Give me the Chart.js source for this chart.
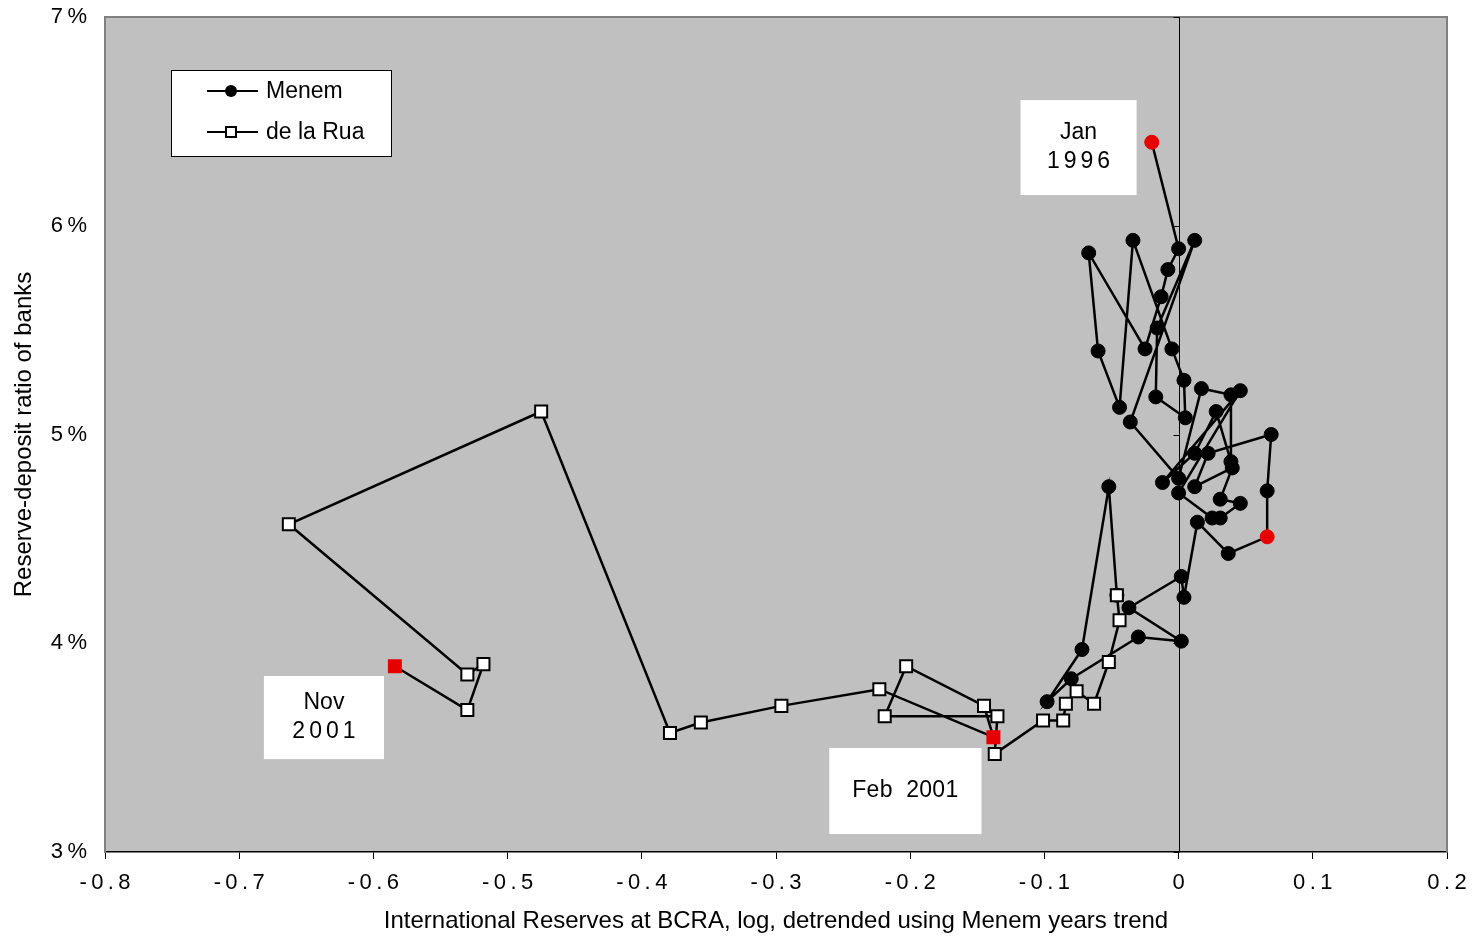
<!DOCTYPE html>
<html><head><meta charset="utf-8">
<script src="https://cdn.jsdelivr.net/npm/chart.js@4.4.1/dist/chart.umd.min.js"></script>
<style>html,body{margin:0;padding:0;background:#fff;}#wrap{width:1476px;height:941px;}</style>
</head><body><div id="wrap"><canvas id="c" width="1476" height="941"></canvas></div>
<script>
// ---- data ----
const menemX = [-0.020, 0.000, -0.008, -0.013, -0.025, -0.067, -0.060, -0.044, -0.034, -0.005,
  0.004, 0.005, -0.017, -0.016, 0.012, -0.036, 0.000, 0.017, 0.039, 0.039,
  0.028, 0.012, -0.012, 0.046, 0.000, 0.025, 0.031, 0.046, 0.031, 0.040,
  0.012, 0.022, 0.069, 0.066, 0.066, 0.037, 0.014, 0.004, 0.002, -0.037,
  0.002, -0.030, -0.080, -0.098, -0.072, -0.052, -0.046];
const menemY = [6.40, 5.89, 5.79, 5.66, 5.41, 5.87, 5.40, 5.13, 5.93, 5.41,
  5.26, 5.08, 5.18, 5.51, 5.93, 5.06, 4.79, 5.22, 5.19, 4.87,
  5.11, 4.91, 4.77, 5.21, 4.72, 4.60, 4.60, 4.67, 4.69, 4.84,
  4.75, 4.91, 5.00, 4.73, 4.51, 4.43, 4.58, 4.22, 4.32, 4.17,
  4.01, 4.03, 3.83, 3.72, 3.97, 4.75, 4.23];
const delaRuaX = [-0.046, -0.044, -0.052, -0.063, -0.076, -0.084, -0.086, -0.101, -0.137, -0.135,
  -0.219, -0.203, -0.145, -0.138, -0.223, -0.296, -0.356, -0.379, -0.475, -0.663,
  -0.530, -0.518, -0.530, -0.584];
const delaRuaY = [4.23, 4.11, 3.91, 3.71, 3.77, 3.71, 3.63, 3.63, 3.47, 3.65,
  3.65, 3.89, 3.70, 3.55, 3.78, 3.70, 3.62, 3.57, 5.11, 4.57,
  3.85, 3.90, 3.68, 3.89];
const menemMarked = [0, 34];
const delaRuaMarked = [13, 23];
const seriesNames = ['Menem', 'de la Rua'];
const xTickValues = [-0.8, -0.7, -0.6, -0.5, -0.4, -0.3, -0.2, -0.1, 0, 0.1, 0.2];
const yTickValues = [3, 4, 5, 6, 7];
const noteTexts = [['Jan', '1996'], ['Nov', '2001'], ['Feb  2001']];
const xTitle = 'International Reserves at BCRA, log, detrended using Menem years trend';
const yTitle = 'Reserve-deposit ratio of banks';

// ---- drawing ----
const FONT = '"Liberation Sans", Arial, sans-serif';
const RED = '#E60000';
const toPts = (xs, ys) => xs.map((x, i) => ({x: x, y: ys[i]}));
const spaced = s => s.split('').join('\u2009');

const bgPlugin = {
  id: 'bg',
  beforeDraw(chart) {
    const {ctx, chartArea: a} = chart;
    ctx.save();
    ctx.fillStyle = '#C0C0C0';
    ctx.fillRect(a.left, a.top, a.right - a.left, a.bottom - a.top);
    ctx.restore();
  },
  beforeDatasetsDraw(chart) {
    const {ctx, chartArea: a, scales} = chart;
    ctx.save();
    ctx.strokeStyle = '#808080';
    ctx.lineWidth = 2;
    ctx.beginPath();
    ctx.moveTo(a.left, a.top); ctx.lineTo(a.right, a.top); ctx.lineTo(a.right, a.bottom);
    ctx.stroke();
    const x0 = Math.round(scales.x.getPixelForValue(0)) + 0.5;
    ctx.strokeStyle = '#000';
    ctx.lineWidth = 1;
    ctx.beginPath();
    ctx.moveTo(x0, a.top); ctx.lineTo(x0, a.bottom);
    yTickValues.forEach(v => {
      const y = Math.round(scales.y.getPixelForValue(v)) + 0.5;
      ctx.moveTo(x0 - 6, y); ctx.lineTo(x0, y);
    });
    ctx.stroke();
    ctx.restore();
  },
  afterDatasetsDraw(chart) {
    const {ctx, scales} = chart;
    const sx = scales.x, sy = scales.y;
    ctx.save();
    const boxes = [
      {t: noteTexts[0], ls: 4, x0: -0.1178, x1: -0.0313, y0: 6.602, y1: 6.147},
      {t: noteTexts[1], ls: 4, x0: -0.6816, x1: -0.5921, y0: 3.843, y1: 3.445},
      {t: noteTexts[2], ls: 0.3, x0: -0.2603, x1: -0.1469, y0: 3.498, y1: 3.086}
    ];
    ctx.font = '23px ' + FONT;
    ctx.textAlign = 'center';
    ctx.textBaseline = 'middle';
    boxes.forEach(b => {
      const L = sx.getPixelForValue(b.x0), R = sx.getPixelForValue(b.x1);
      const T = sy.getPixelForValue(b.y0), B = sy.getPixelForValue(b.y1);
      ctx.fillStyle = '#fff';
      ctx.fillRect(L, T, R - L, B - T);
      ctx.fillStyle = '#000';
      const cx = (L + R) / 2, cy = (T + B) / 2;
      const n = b.t.length;
      b.t.forEach((line, i) => {
        ctx.letterSpacing = /^\d+$/.test(line) ? b.ls + 'px' : (b.ls < 1 ? b.ls + 'px' : '0px');
        ctx.fillText(line, cx + (/^\d+$/.test(line) ? b.ls / 2 : 0), cy + (i - (n - 1) / 2) * 29);
      });
    });
    ctx.letterSpacing = '0px';
    // legend
    ctx.fillStyle = '#fff';
    ctx.fillRect(171, 70, 220, 86);
    ctx.strokeStyle = '#000';
    ctx.lineWidth = 1;
    ctx.strokeRect(171.5, 70.5, 220, 86);
    ctx.lineWidth = 2;
    [91, 132].forEach(y => {
      ctx.beginPath(); ctx.moveTo(207, y); ctx.lineTo(258, y); ctx.stroke();
    });
    ctx.fillStyle = '#000';
    ctx.beginPath(); ctx.arc(231, 91, 6, 0, Math.PI * 2); ctx.fill();
    ctx.fillStyle = '#fff';
    ctx.fillRect(226, 127, 10, 10);
    ctx.strokeRect(226, 127, 10, 10);
    ctx.fillStyle = '#000';
    ctx.font = '23px ' + FONT;
    ctx.textAlign = 'left';
    ctx.textBaseline = 'middle';
    ctx.fillText(seriesNames[0], 266, 92);
    ctx.fillText(seriesNames[1], 266, 133);
    ctx.restore();
  }
};

new Chart(document.getElementById('c'), {
  type: 'scatter',
  data: {
    datasets: [
      {
        label: seriesNames[0],
        data: toPts(menemX, menemY),
        showLine: true,
        order: 1,
        borderColor: '#000',
        borderWidth: 2.5,
        pointStyle: 'circle',
        pointRadius: 7,
        pointHoverRadius: 7,
        pointBorderWidth: 1,
        pointBackgroundColor: c => menemMarked.includes(c.dataIndex) ? RED : '#000',
        pointBorderColor: c => menemMarked.includes(c.dataIndex) ? RED : '#000'
      },
      {
        label: seriesNames[1],
        data: toPts(delaRuaX, delaRuaY),
        showLine: true,
        order: 0,
        borderColor: '#000',
        borderWidth: 2.5,
        pointStyle: 'rect',
        pointRadius: 8.5,
        pointHoverRadius: 8.5,
        pointBorderWidth: 2,
        pointBackgroundColor: c => delaRuaMarked.includes(c.dataIndex) ? RED : '#fff',
        pointBorderColor: c => delaRuaMarked.includes(c.dataIndex) ? RED : '#000'
      }
    ]
  },
  options: {
    responsive: false,
    animation: false,
    devicePixelRatio: 1,
    layout: {padding: {left: 0, top: 17, right: 29, bottom: 0}},
    plugins: {legend: {display: false}, tooltip: {enabled: false}},
    scales: {
      x: {
        type: 'linear', min: -0.8, max: 0.2,
        afterBuildTicks: s => { s.ticks = xTickValues.map(v => ({value: v})); },
        afterFit: s => { s.height = 89; s.paddingLeft = 0; s.paddingRight = 0; },
        border: {display: true, color: '#000', width: 1.5},
        grid: {drawOnChartArea: false, drawTicks: true, tickLength: 7, tickColor: '#000', tickWidth: 1},
        ticks: {
          color: '#000', font: {family: FONT, size: 22}, padding: 11, maxRotation: 0,
          callback: v => { const r = Math.round(v * 10) / 10; return r === 0 ? '0' : spaced(r.toFixed(1)); }
        },
        title: {display: true, text: xTitle, color: '#000', font: {family: FONT, size: 24}, padding: {top: 0, bottom: 5}}
      },
      y: {
        type: 'linear', min: 3, max: 7,
        afterBuildTicks: s => { s.ticks = yTickValues.map(v => ({value: v})); },
        afterFit: s => { s.width = 105; s.paddingTop = 0; s.paddingBottom = 0; },
        border: {display: true, color: '#808080', width: 2},
        grid: {drawOnChartArea: false, drawTicks: false},
        ticks: {
          color: '#000', font: {family: FONT, size: 22}, padding: 18,
          callback: v => v + '\u2009%'
        },
        title: {display: true, text: yTitle, color: '#000', font: {family: FONT, size: 24}, padding: {top: 10, bottom: 0}}
      }
    }
  },
  plugins: [bgPlugin]
});
</script></body></html>
